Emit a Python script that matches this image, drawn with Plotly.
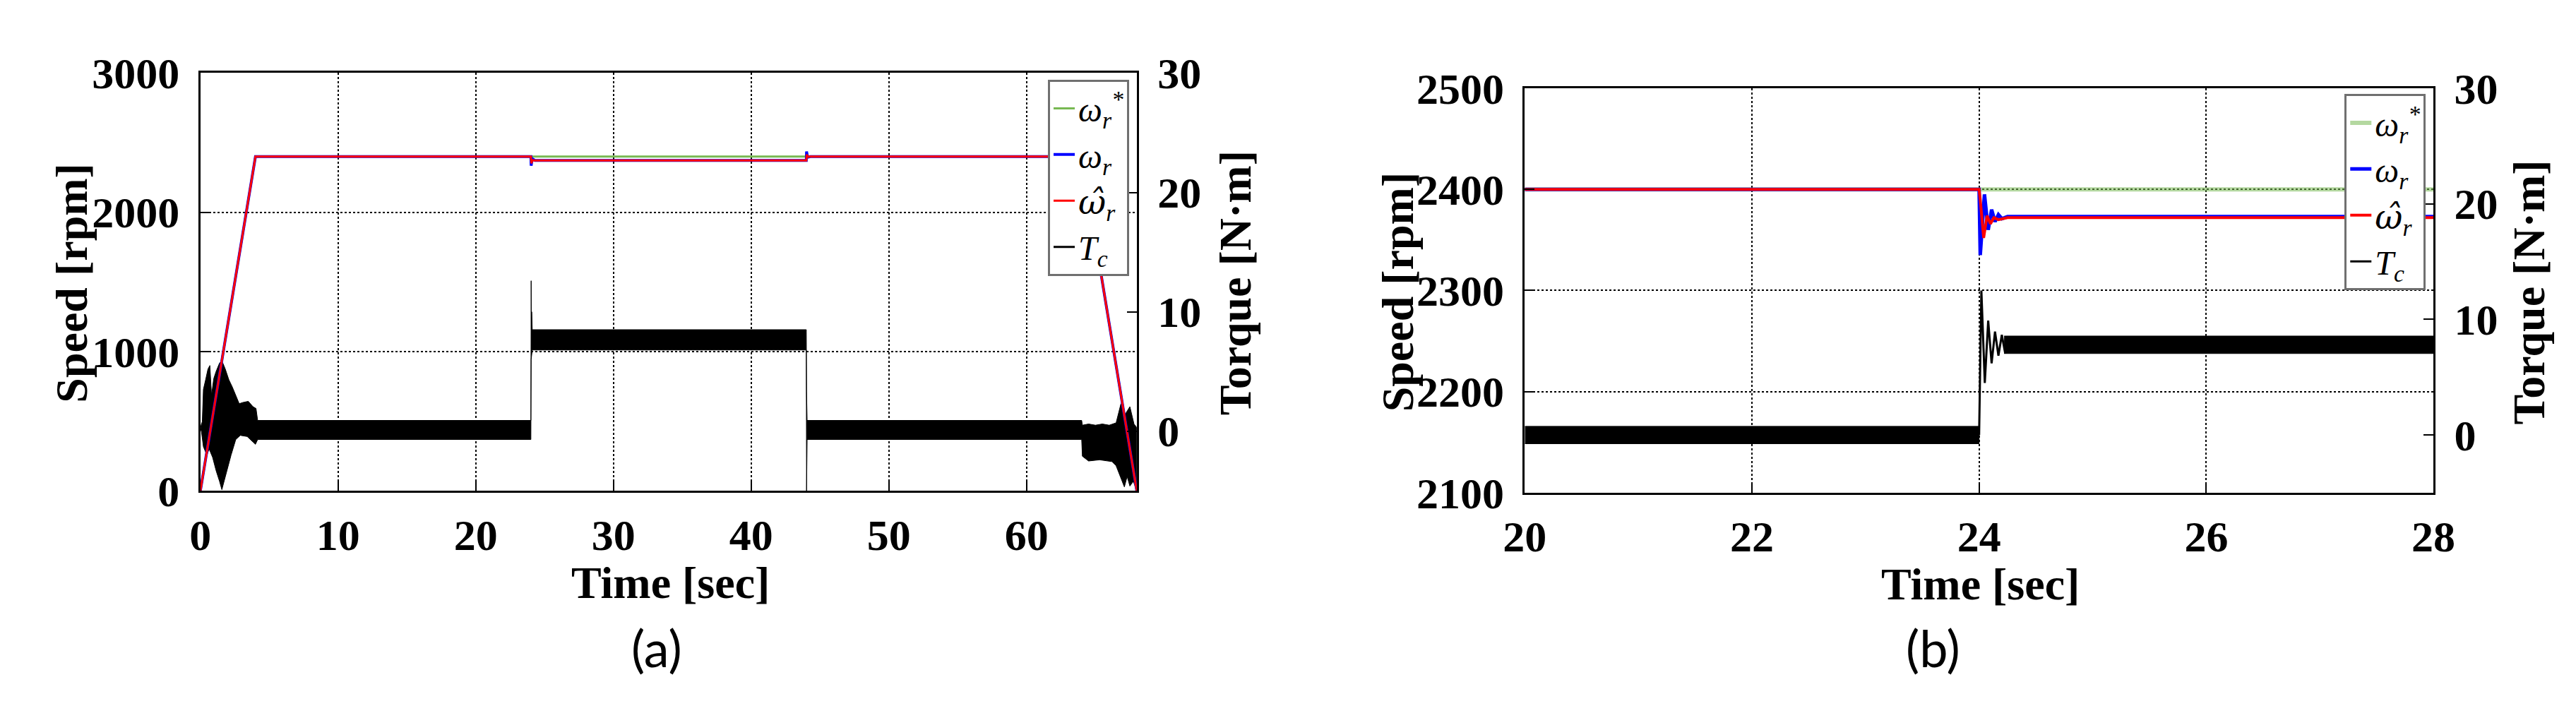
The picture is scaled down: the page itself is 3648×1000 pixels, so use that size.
import plotly.graph_objects as go

W, H = 3648, 1000

# ---------------- Panel (a) data ----------------
ta_ref = [0, 4, 64, 68]
wa_ref = [0, 2400, 2400, 0]

ta_w = [0, 4, 24.0, 24.02, 24.1, 24.3, 44.0, 44.02, 44.1, 44.3, 64, 68]
wa_w = [0, 2400, 2400, 2335, 2385, 2373, 2373, 2437, 2395, 2400, 2400, 0]

ta_est = [0, 4, 24.0, 24.04, 24.1, 24.3, 44.0, 44.04, 44.1, 44.3, 64, 68]
wa_est = [0, 2400, 2400, 2352, 2374, 2372, 2372, 2415, 2398, 2400, 2400, 0]

# torque envelope (upper / lower) for the dense black band
ta_tq_up = [0, 0.05, 0.14, 0.22, 0.38, 0.55, 0.69, 0.81, 0.97, 1.14, 1.39, 1.56, 1.81,
            2.07, 2.32, 2.57, 2.82, 3.07, 3.48, 3.82, 4.04, 4.16, 24.0, 24.02, 24.04,
            24.06, 24.1, 44.0, 44.02, 44.06, 64.0, 64.05, 64.5, 65.0, 65.5, 66.0, 66.5,
            66.85, 67.1, 67.5, 67.8, 68.0]
tqa_up = [0, 0.5, 0.8, 3.5, 4.3, 5.2, 5.5, 3.0, 4.4, 5.0, 5.7, 5.9, 5.2,
          4.3, 3.7, 3.0, 2.3, 2.4, 2.5, 2.05, 1.9, 0.9, 0.9, 12.6, 8.0,
          10.0, 8.5, 8.5, 3.3, 0.9, 0.9, 0.5, 0.6, 0.5, 0.6, 0.5, 0.7,
          2.3, 1.3, 2.05, 0.6, 0.3]
ta_tq_lo = [0, 0.05, 0.22, 0.47, 0.64, 0.89, 1.14, 1.39, 1.56, 1.73, 1.98, 2.23, 2.57,
            2.9, 3.4, 4.0, 4.16, 24.0, 24.02, 24.1, 44.0, 44.02, 44.06, 64.0, 64.05,
            64.5, 65.3, 66.2, 66.5, 66.75, 67.1, 67.3, 67.5, 67.75, 68.0]
tqa_lo = [0, 0.2, -1.3, -2.0, -1.5, -2.2, -3.3, -4.2, -4.9, -4.2, -3.1, -2.0, -0.7,
          -0.35, -0.45, -1.1, -0.7, -0.7, 6.0, 6.8, 6.8, -5.0, -0.7, -0.7, -2.1,
          -2.5, -2.4, -2.55, -2.9, -3.66, -4.67, -3.8, -4.6, -4.2, -5.0]

# ---------------- Panel (b) data ----------------
tb_ref = [20, 28]
wb_ref = [2400, 2400]

tb_w = [20, 24.0, 24.01, 24.047, 24.08, 24.11, 24.14, 24.17, 24.2, 24.25, 28]
wb_w = [2400, 2400, 2335, 2395, 2360, 2380, 2368, 2375, 2371, 2373, 2373]

tb_est = [20, 24.0, 24.01, 24.04, 24.07, 24.1, 24.13, 24.17, 24.25, 28]
wb_est = [2400, 2400, 2390, 2352, 2374, 2366, 2372, 2370, 2372, 2372]

tb_tq_pre = [20, 24.0]
tqb_pre_up = [0.75, 0.75]
tqb_pre_lo = [-0.75, -0.75]

tb_tq_tr = [24.0, 24.02, 24.05, 24.08, 24.11, 24.14, 24.17, 24.2, 24.23]
tqb_tr = [0.0, 12.5, 4.5, 9.9, 6.2, 8.94, 6.86, 8.66, 7.05]

tb_tq_post = [24.22, 28]
tqb_post_up = [8.56, 8.56]
tqb_post_lo = [7.05, 7.05]

# ---------------- styling ----------------
GREEN = '#77b852'
BLUE = '#0000ff'
RED = '#ff0000'
SERIF = 'Liberation Serif'
tickfont = dict(family=SERIF, size=62, color='black', weight='bold')
legfont = dict(family='Liberation Serif, DejaVu Serif', size=48, color='black')

LBL_REF = '<i>ω<sub>r</sub><sup>*</sup></i>'
LBL_W = '<i>ω<sub>r</sub></i>'
LBL_EST = '<i><span style="font-family:DejaVu Serif">\u03c9\u0302</span><sub>r</sub></i>'
LBL_T = '<i>T<sub>c</sub></i>'

fig = go.Figure()


def band(tu, yu, tl, yl):
    return list(tu) + list(reversed(tl)), list(yu) + list(reversed(yl))


def add_panel(xa, ytq, ysp, leg, t_ref, w_ref, t_w, w_w, t_est, w_est, wref, wline, tq_polys, tq_lines):
    # torque (base axis, drawn beneath speed)
    for (px, py) in tq_polys:
        fig.add_trace(go.Scatter(x=px, y=py, xaxis=xa, yaxis=ytq, mode='lines', fill='toself',
                                 fillcolor='black', line=dict(color='black', width=1),
                                 showlegend=False, hoverinfo='skip', legend=leg))
    for (lx, ly) in tq_lines:
        fig.add_trace(go.Scatter(x=lx, y=ly, xaxis=xa, yaxis=ytq, mode='lines',
                                 line=dict(color='black', width=3), showlegend=False, legend=leg))
    fig.add_trace(go.Scatter(x=[None], y=[None], xaxis=xa, yaxis=ytq, mode='lines', name=LBL_T,
                             line=dict(color='black', width=3), legend=leg, legendrank=4))
    # speed (overlay axis)
    fig.add_trace(go.Scatter(x=t_ref, y=w_ref, xaxis=xa, yaxis=ysp, mode='lines', name=LBL_REF,
                             line=dict(color=wref[0], width=wref[1]), legend=leg, legendrank=1))
    fig.add_trace(go.Scatter(x=t_w, y=w_w, xaxis=xa, yaxis=ysp, mode='lines', name=LBL_W,
                             line=dict(color=BLUE, width=wline + 1), legend=leg, legendrank=2))
    fig.add_trace(go.Scatter(x=t_est, y=w_est, xaxis=xa, yaxis=ysp, mode='lines', name=LBL_EST,
                             line=dict(color=RED, width=wline), legend=leg, legendrank=3))


add_panel('x', 'y', 'y2', 'legend', ta_ref, wa_ref, ta_w, wa_w, ta_est, wa_est,
          (GREEN, 3), 3, [band(ta_tq_up, tqa_up, ta_tq_lo, tqa_lo)], [])
add_panel('x2', 'y3', 'y4', 'legend2', tb_ref, wb_ref, tb_w, wb_w, tb_est, wb_est,
          ('rgba(119,184,82,0.55)', 6), 4,
          [band(tb_tq_pre, tqb_pre_up, tb_tq_pre, tqb_pre_lo),
           band(tb_tq_post, tqb_post_up, tb_tq_post, tqb_post_lo)],
          [(tb_tq_tr, tqb_tr)])

# ---------------- geometry ----------------
ax_a = (249, 1598, 67, 702)
ax_b = (2157, 3466, 90, 705)


def xd(p):
    return [p[0] / W, p[1] / W]


def yd(p):
    return [1 - p[3] / H, 1 - p[2] / H]


common_x = dict(showline=True, linecolor='black', linewidth=3, mirror=True,
                ticks='inside', ticklen=14, tickwidth=2, tickcolor='black',
                showgrid=True, gridcolor='black', gridwidth=2, griddash='dot',
                tickfont=tickfont, zeroline=False, ticklabelstandoff=6)
common_tq = dict(showline=True, linecolor='black', linewidth=3, side='right',
                 ticks='inside', ticklen=14, tickwidth=2, tickcolor='black',
                 showgrid=False, zeroline=False, tickfont=tickfont,
                 range=[-5, 30], tickvals=[0, 10, 20, 30], ticklabelstandoff=14)
common_sp = dict(showline=True, linecolor='black', linewidth=3, side='left',
                 ticks='inside', ticklen=14, tickwidth=2, tickcolor='black',
                 showgrid=True, gridcolor='black', gridwidth=2, griddash='dot',
                 zeroline=False, tickfont=tickfont, ticklabelstandoff=14)

fig.update_layout(
    width=W, height=H, margin=dict(l=0, r=0, t=0, b=0),
    paper_bgcolor='white', plot_bgcolor='white',
    xaxis=dict(domain=xd(ax_a), anchor='y', range=[0, 68], tickvals=[0, 10, 20, 30, 40, 50, 60], **common_x),
    yaxis=dict(domain=yd(ax_a), anchor='x', **common_tq),
    yaxis2=dict(overlaying='y', anchor='x', range=[0, 3000], tickvals=[0, 1000, 2000, 3000], **common_sp),
    xaxis2=dict(domain=xd(ax_b), anchor='y3', range=[20, 28], tickvals=[20, 22, 24, 26, 28], **common_x),
    yaxis3=dict(domain=yd(ax_b), anchor='x2', **common_tq),
    yaxis4=dict(overlaying='y3', anchor='x2', range=[2100, 2500], tickvals=[2100, 2200, 2300, 2400, 2500], **common_sp),
    legend=dict(x=1587 / W, y=1 - 77 / H, xanchor='right', yanchor='top', bgcolor='white',
                bordercolor='#707070', borderwidth=3, font=legfont, tracegroupgap=0),
    legend2=dict(x=3455 / W, y=1 - 99 / H, xanchor='right', yanchor='top', bgcolor='white',
                 bordercolor='#707070', borderwidth=3, font=legfont, tracegroupgap=0),
)

titlefont = dict(family=SERIF, size=64, color='black', weight='bold')
capfont = dict(family='Lato', size=72, color='black')
annots = [
    ('Speed [rpm]', 64, 386, -90, titlefont),
    ('Torque [N·m]', 1740, 386, -90, titlefont),
    ('Time [sec]', 926, 842, 0, titlefont),
    ('(a)', 906, 940, 0, capfont),
    ('Speed [rpm]', 1974, 399, -90, titlefont),
    ('Torque [N·m]', 3604, 400, -90, titlefont),
    ('Time [sec]', 2813, 844, 0, titlefont),
    ('(b)', 2745, 940, 0, capfont),
]
for txt, px, py, ang, fnt in annots:
    fig.add_annotation(text=txt, x=px / W, y=1 - py / H, xref='paper', yref='paper',
                       xanchor='center', yanchor='middle', textangle=ang, showarrow=False, font=fnt)

fig.write_html('out.html')
